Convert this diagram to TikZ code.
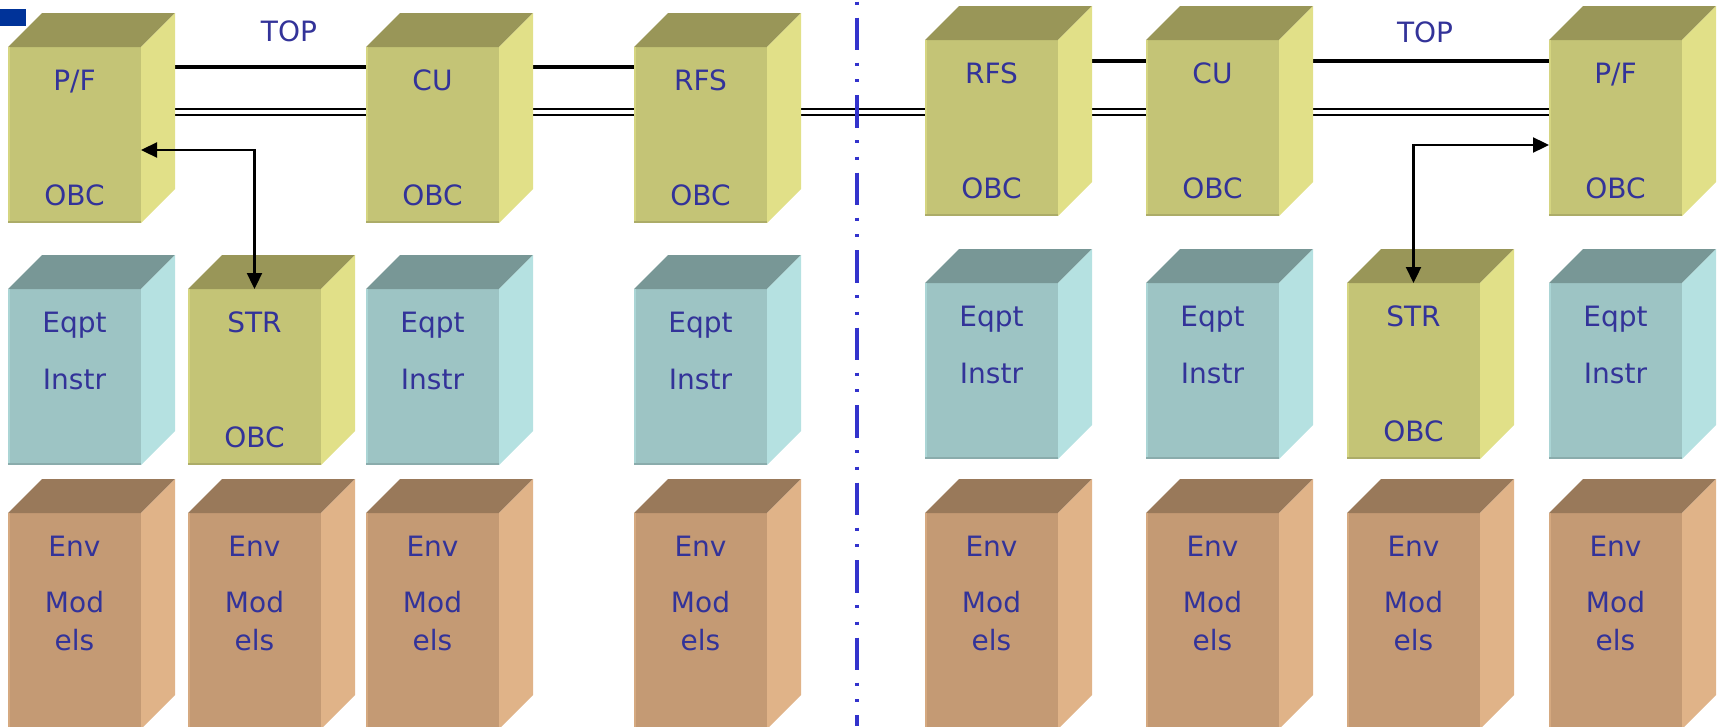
\documentclass[tikz,border=0pt]{standalone}
\usepackage{fontspec}
\setmainfont{DejaVu Sans}
\usetikzlibrary{positioning}
\usetikzlibrary{arrows.meta}
\definecolor{obcFront}{HTML}{C4C476}
\definecolor{obcTop}{HTML}{999658}
\definecolor{obcSide}{HTML}{E1E088}
\definecolor{eqptFront}{HTML}{9DC4C4}
\definecolor{eqptTop}{HTML}{789796}
\definecolor{eqptSide}{HTML}{B5E1E1}
\definecolor{envFront}{HTML}{C49A74}
\definecolor{envTop}{HTML}{99795A}
\definecolor{envSide}{HTML}{E0B388}
\definecolor{Ink}{HTML}{333399}
\definecolor{Rule}{HTML}{3333CC}
\definecolor{Tab}{HTML}{003399}

\pgfdeclarelayer{background}
\pgfsetlayers{background,main}

\tikzset{
  front/.style={anchor=north west, inner sep=0pt, outer sep=0pt,
    minimum width=133pt, fill=#1Front},
  lbl/.style={anchor=base, inner sep=0pt, text=Ink,
    font=\fontsize{28}{34}\selectfont},
  bus/.style={line width=4pt},
  wire/.style={double, double distance=3.3pt, line width=2.2pt},
  link/.style={line width=2.3pt, <->},
  divider/.style={Rule, line width=3.3pt,
    dash pattern=on 32.6pt off 12.4pt on 3.3pt off 13.3pt on 3.3pt off 12.6pt,
    dash phase=60pt},
}

% box seen from above right: the front face is the node, top and side are filled
\newcommand{\crate}[4]{%
  \node[front=#3, minimum height=#4] (#1) at (#2) {};
  \fill[#3Top] (#1.north west) -- ++(34,-34) -- ++(133,0) -- (#1.north east) -- cycle;
  \fill[#3Side] (#1.north east) -- ++(34,-34) -- ++(0,#4) -- (#1.south east) -- cycle;
  % soft bevel on the front edges
  \draw[#3Side!60!#3Front, line width=2pt] ([xshift=1pt]#1.north west) -- ([xshift=1pt]#1.south west);
  \draw[#3Front!88!black, line width=2pt] ([yshift=1pt]#1.south west) -- ([yshift=1pt]#1.south east);
}

\begin{document}
\begin{tikzpicture}[x=1pt, y=-1pt, >={Triangle[length=16pt,width=15pt]}]
\useasboundingbox (0,0) rectangle (1722,726);
\fill[Tab] (0,9) rectangle (26,26);

% computers
\foreach \n/\x/\y in {pf1/8/47, cu1/366/47, rfs1/634/47, str1/188/289,
                      rfs2/925/40, cu2/1146/40, pf2/1549/40, str2/1347/283} {
  \crate{\n}{\x,\y}{obc}{176}
}

\foreach \n/\t in {pf1/{P/F}, cu1/CU, rfs1/RFS, str1/STR,
                   rfs2/RFS, cu2/CU, str2/STR, pf2/{P/F}} {
  \node[lbl] (\n-name) at ([yshift=-43pt]\n.north) {\t};
  \node[lbl] (\n-obc) at ([yshift=-158pt]\n.north) {OBC};
}

% equipment and instruments
\foreach \x/\y [count=\i] in {8/289, 366/289, 634/289, 925/283, 1146/283, 1549/283} {
  \crate{eq\i}{\x,\y}{eqpt}{176}
  \node[lbl] (eq\i-a) at ([yshift=-43pt]eq\i.north) {Eqpt};
  \node[lbl] (eq\i-b) at ([yshift=-100pt]eq\i.north) {Instr};
}

% environment models
\foreach \x [count=\i] in {8, 188, 366, 634, 925, 1146, 1347, 1549} {
  \crate{env\i}{\x,513}{env}{216}
  \node[lbl] (env\i-a) at ([yshift=-43pt]env\i.north) {Env};
  \node[lbl] (env\i-b) at ([yshift=-99pt]env\i.north) {Mod};
  \node[lbl] (env\i-c) at ([yshift=-137pt]env\i.north) {els};
}

\node[lbl] (top1) at (289,41) {TOP};
\node[lbl] (top2) at (1425,42) {TOP};

% buses run behind the boxes
\begin{pgfonlayer}{background}
  \path ([yshift=-20pt]pf1.north) coordinate (b1)
        ([yshift=-21pt]rfs2.north) coordinate (b2)
        ([yshift=-65pt]pf1.north) coordinate (w1);
  \draw[bus] (b1) -- (b1 -| rfs1.center);
  \draw[bus] (b2) -- (b2 -| pf2.center);
  \draw[wire] (w1) -- (w1 -| pf2.center);
\end{pgfonlayer}

\draw[link] ([yshift=-103pt]pf1.north east) -| (str1.north);
\draw[link] (str2.north) |- ([yshift=-105pt]pf2.north west);

\draw[divider] (857,0) -- (857,726);

\end{tikzpicture}
\end{document}
